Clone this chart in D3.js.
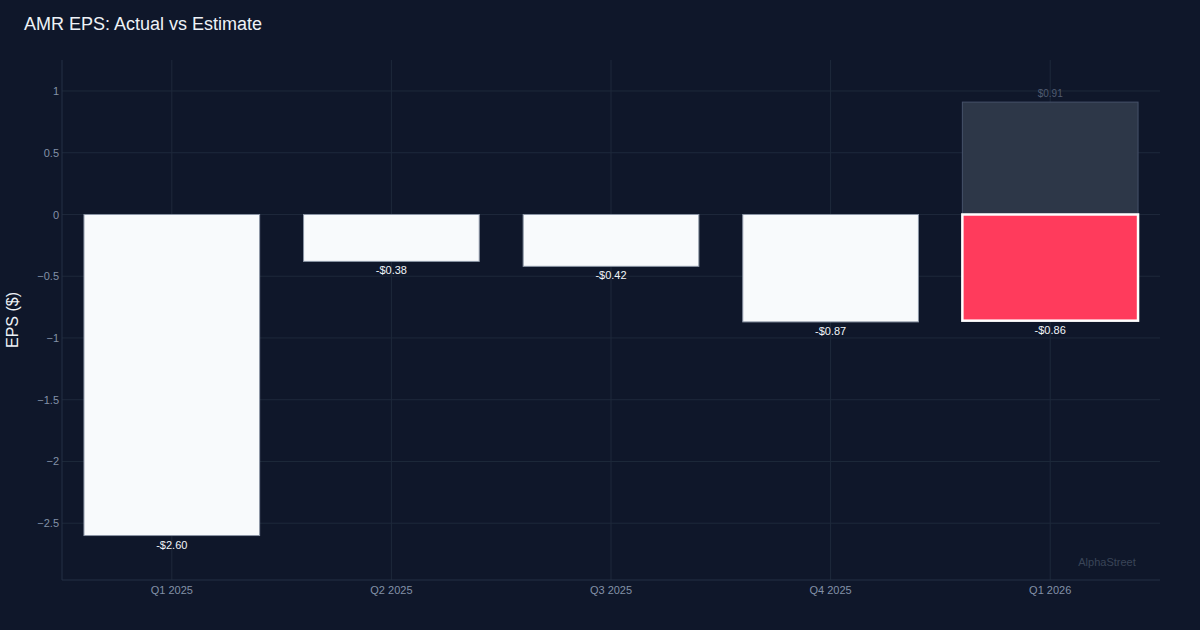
<!DOCTYPE html>
<html>
<head>
<meta charset="utf-8">
<script src="https://cdn.jsdelivr.net/npm/d3@7"></script>
<style>
  html, body { margin: 0; padding: 0; background: #0f172a; }
  svg { display: block; font-family: "Liberation Sans", Arial, sans-serif; }
</style>
</head>
<body>
<svg id="chart" width="1200" height="630"></svg>
<script>
'use strict';

var quarters = ["Q1 2025", "Q2 2025", "Q3 2025", "Q4 2025", "Q1 2026"];
var actualEps = [-2.60, -0.38, -0.42, -0.87, -0.86];
var estimateEps = [null, null, null, null, 0.91];
var yTicks = [1, 0.5, 0, -0.5, -1, -1.5, -2, -2.5];
var highlightIndex = 4;

var width = 1200, height = 630;
var margin = { top: 60, right: 40, bottom: 50, left: 62 };

var svg = d3.select("#chart");
svg.append("rect").attr("width", width).attr("height", height).attr("fill", "#0f172a");

var x = d3.scaleBand()
  .domain(quarters)
  .range([margin.left, width - margin.right])
  .paddingInner(0.2)
  .paddingOuter(0.1);

var y = d3.scaleLinear()
  .domain([-2.96, 1.251])
  .range([height - margin.bottom, margin.top]);

var fmt = function(v) {
  return (v < 0 ? "-$" : "$") + Math.abs(v).toFixed(2);
};

// grid
var grid = svg.append("g");
grid.selectAll(".hgrid").data(yTicks).enter().append("line")
  .attr("x1", margin.left).attr("x2", width - margin.right)
  .attr("y1", function(d) { return y(d); }).attr("y2", function(d) { return y(d); })
  .attr("stroke", "#1e293b").attr("stroke-width", 1);
grid.selectAll(".vgrid").data(quarters).enter().append("line")
  .attr("x1", function(d) { return x(d) + x.bandwidth() / 2; })
  .attr("x2", function(d) { return x(d) + x.bandwidth() / 2; })
  .attr("y1", margin.top).attr("y2", height - margin.bottom)
  .attr("stroke", "#1e293b").attr("stroke-width", 1);

// axis lines
svg.append("line")
  .attr("x1", margin.left).attr("x2", margin.left)
  .attr("y1", margin.top).attr("y2", height - margin.bottom)
  .attr("stroke", "#243044");
svg.append("line")
  .attr("x1", margin.left).attr("x2", width - margin.right)
  .attr("y1", height - margin.bottom).attr("y2", height - margin.bottom)
  .attr("stroke", "#243044");

// y axis
var yAxis = d3.axisLeft(y).tickValues(yTicks).tickSize(0).tickPadding(3)
  .tickFormat(function(d) { return d < 0 ? "\u2212" + Math.abs(d) : String(d); });
var gy = svg.append("g").attr("transform", "translate(" + margin.left + ",0)").call(yAxis);
gy.select(".domain").remove();
gy.selectAll("text").attr("fill", "#8391a7").attr("font-size", 11)
  .attr("font-family", "Liberation Sans, Arial, sans-serif");

// x axis
var xAxis = d3.axisBottom(x).tickSize(0).tickPadding(6);
var gx = svg.append("g").attr("transform", "translate(0," + (height - margin.bottom) + ")").call(xAxis);
gx.select(".domain").remove();
gx.selectAll("text").attr("fill", "#8391a7").attr("font-size", 11)
  .attr("font-family", "Liberation Sans, Arial, sans-serif");

// estimate bars
var est = quarters.map(function(q, i) { return { q: q, v: estimateEps[i] }; })
  .filter(function(d) { return d.v !== null; });
svg.selectAll(".est").data(est).enter().append("rect")
  .attr("x", function(d) { return x(d.q); })
  .attr("width", x.bandwidth())
  .attr("y", function(d) { return y(Math.max(0, d.v)); })
  .attr("height", function(d) { return Math.abs(y(d.v) - y(0)); })
  .attr("fill", "#2d3748")
  .attr("stroke", "#46526a").attr("stroke-width", 1);
svg.selectAll(".estLabel").data(est).enter().append("text")
  .attr("x", function(d) { return x(d.q) + x.bandwidth() / 2; })
  .attr("y", function(d) { return y(d.v) - 5; })
  .attr("text-anchor", "middle")
  .attr("font-size", 10).attr("fill", "#4f5b70")
  .text(function(d) { return fmt(d.v); });

// actual bars
var act = quarters.map(function(q, i) { return { q: q, v: actualEps[i], i: i }; });
svg.selectAll(".act").data(act).enter().append("rect")
  .attr("x", function(d) { return x(d.q); })
  .attr("width", x.bandwidth())
  .attr("y", function(d) { return y(Math.max(0, d.v)); })
  .attr("height", function(d) { return Math.abs(y(d.v) - y(0)); })
  .attr("fill", function(d) { return d.i === highlightIndex ? "#ff3b5c" : "#f8fafc"; })
  .attr("stroke", function(d) { return d.i === highlightIndex ? "#ffffff" : "#8b95a5"; })
  .attr("stroke-width", function(d) { return d.i === highlightIndex ? 2.5 : 1; });
svg.selectAll(".actLabel").data(act).enter().append("text")
  .attr("x", function(d) { return x(d.q) + x.bandwidth() / 2; })
  .attr("y", function(d) { return y(d.v) + 13; })
  .attr("text-anchor", "middle")
  .attr("font-size", 11).attr("fill", "#f1f5f9")
  .text(function(d) { return fmt(d.v); });

// title
svg.append("text").attr("x", 24).attr("y", 30)
  .attr("font-size", 18).attr("fill", "#eef2f7")
  .text("AMR EPS: Actual vs Estimate");

// y axis title
svg.append("text")
  .attr("transform", "translate(18," + ((margin.top + height - margin.bottom) / 2) + ") rotate(-90)")
  .attr("text-anchor", "middle")
  .attr("font-size", 16).attr("fill", "#eef2f7")
  .text("EPS ($)");

// watermark
svg.append("text").attr("x", 1107).attr("y", 566)
  .attr("text-anchor", "middle")
  .attr("font-size", 11).attr("fill", "#3a4558")
  .text("AlphaStreet");
</script>
</body>
</html>
